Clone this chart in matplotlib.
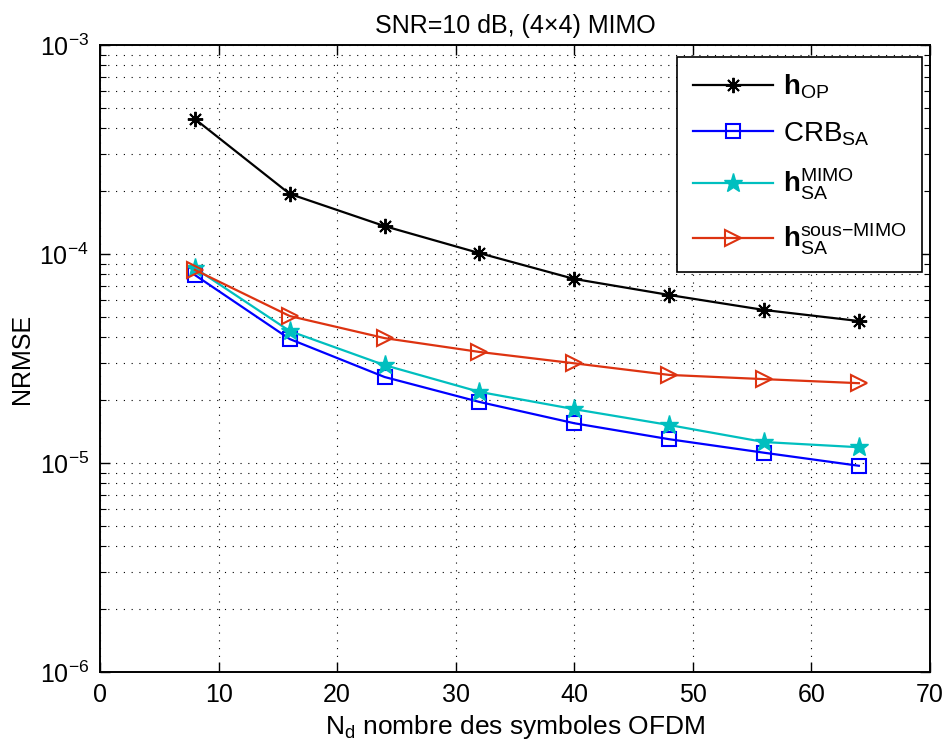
import matplotlib
matplotlib.use("Agg")
import matplotlib.pyplot as plt
from matplotlib.ticker import LogLocator, NullFormatter

plt.rcParams['font.family'] = ['Liberation Sans', 'DejaVu Sans']
plt.rcParams['mathtext.fontset'] = 'custom'
plt.rcParams['mathtext.rm'] = 'Liberation Sans'
plt.rcParams['mathtext.it'] = 'Liberation Sans:italic'
plt.rcParams['mathtext.bf'] = 'Liberation Sans:bold'

# Number of OFDM symbols
nd = [8, 16, 24, 32, 40, 48, 56, 64]

# NRMSE for each estimator
h_op = [4.43e-4, 1.94e-4, 1.36e-4, 1.01e-4, 7.6e-5, 6.37e-5, 5.4e-5, 4.78e-5]
crb_sa = [7.94e-5, 3.92e-5, 2.58e-5, 1.96e-5, 1.55e-5, 1.30e-5, 1.12e-5, 9.7e-6]
h_sa_mimo = [8.57e-5, 4.28e-5, 2.94e-5, 2.19e-5, 1.81e-5, 1.52e-5, 1.26e-5, 1.19e-5]
h_sa_sous = [8.4e-5, 5.05e-5, 3.96e-5, 3.4e-5, 3.0e-5, 2.64e-5, 2.52e-5, 2.41e-5]

labels = [r'$\mathbf{h}_{\mathrm{OP}}$',
          r'$\mathrm{CRB}_{\mathrm{SA}}$',
          r'$\mathbf{h}_{\mathrm{SA}}^{\mathrm{MIMO}}$',
          r'$\mathbf{h}_{\mathrm{SA}}^{\mathrm{sous{-}MIMO}}$']

fig = plt.figure(figsize=(9.46, 7.51), dpi=100)
ax = fig.add_axes([0.1057, 0.1052, 0.8774, 0.8348])

lw = 1.6
ax.plot(nd, h_op, color='black', lw=lw, marker=(8, 2, 0), ms=11, mew=1.4,
        label=labels[0])
ax.plot(nd, crb_sa, color='#0000ff', lw=lw, marker='s', ms=9.5, mew=1.5,
        mfc='none', label=labels[1])
ax.plot(nd, h_sa_mimo, color='#00bfbf', lw=lw, marker='*', ms=14, mew=1.0,
        label=labels[2])
ax.plot(nd, h_sa_sous, color='#dd3311', lw=lw, marker='>', ms=12, mew=1.5,
        mfc='none', label=labels[3])

ax.set_yscale('log')
ax.set_xlim(0, 70)
ax.set_ylim(1e-6, 1e-3)
ax.set_xticks(range(0, 71, 10))
ax.yaxis.set_major_locator(LogLocator(base=10, numticks=10))
ax.yaxis.set_minor_locator(LogLocator(base=10, subs=range(2, 10), numticks=20))
ax.yaxis.set_minor_formatter(NullFormatter())

ax.grid(True, which='major', axis='both', color='black',
        linestyle=(0, (1, 6)), linewidth=0.8)
ax.grid(True, which='minor', axis='y', color='black',
        linestyle=(0, (1, 6)), linewidth=0.8)

ax.tick_params(which='both', direction='in', top=True, right=True,
               labelsize=18, pad=8)
ax.tick_params(which='major', length=7, width=1.0)
ax.tick_params(which='minor', length=4, width=0.8)
for s in ax.spines.values():
    s.set_linewidth(1.4)

ax.set_xlabel(r'N$_\mathregular{d}$ nombre des symboles OFDM', fontsize=19,
              labelpad=4)
ax.set_ylabel('NRMSE', fontsize=18)
ax.set_title('SNR=10 dB, (4\u00d74) MIMO', fontsize=18, pad=9)

leg = ax.legend(loc='upper right', bbox_to_anchor=(0.990, 0.981),
                borderaxespad=0, fontsize=20, fancybox=False,
                edgecolor='black', framealpha=1, handlelength=2.9,
                handletextpad=0.35, labelspacing=0.7, borderpad=0.55)
leg.get_frame().set_linewidth(1.2)

fig.savefig('out.png', dpi=100)
